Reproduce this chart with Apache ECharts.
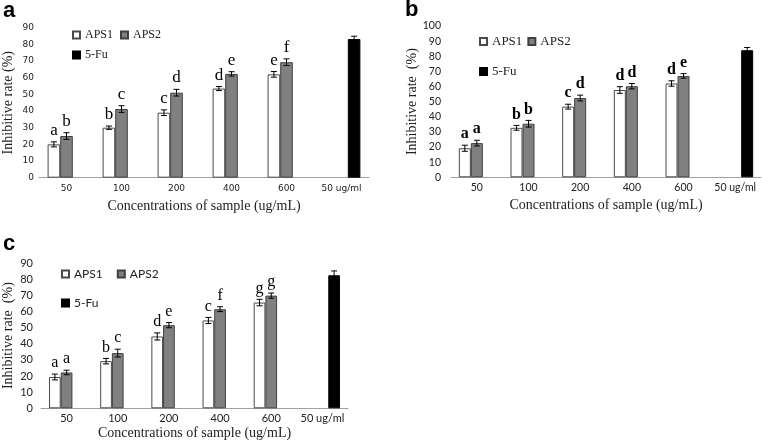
<!DOCTYPE html>
<html>
<head>
<meta charset="utf-8">
<script src="https://cdn.jsdelivr.net/npm/echarts@6/dist/echarts.min.js"></script>
<style>html,body{margin:0;padding:0;background:#fff;}#chart{width:762px;height:443px;}</style>
</head>
<body>
<div id="chart"></div>
<script>
const categories = ['50', '100', '200', '400', '600', '50 ug/ml'];
const yTicksA = { min: 0, max: 90, interval: 10 };
const yTicksB = { min: 0, max: 100, interval: 10 };
const yTicksC = { min: 0, max: 90, interval: 10 };

// Panel a
const aAPS1 = [20, 30, 39, 53.5, 62, null];
const aAPS2 = [25, 41.2, 51, 62.3, 69.3, null];
const aFU = [null, null, null, null, null, 83.2];
const aErr1 = [1.5, 1, 1.7, 1.2, 1.7, null];
const aErr2 = [2, 2, 2, 1.3, 2, null];
const aErrFU = [null, null, null, null, null, 1.7];
const aLet1 = ['a', 'b', 'c', 'd', 'e', ''];
const aLet2 = ['b', 'c', 'd', 'e', 'f', ''];

// Panel b
const bAPS1 = [19.2, 32.7, 46.7, 57.7, 62, null];
const bAPS2 = [22.6, 35.4, 52.4, 60.2, 67, null];
const bFU = [null, null, null, null, null, 84];
const bErr1 = [2, 1.6, 1.6, 2.2, 1.8, null];
const bErr2 = [1.9, 2.2, 1.9, 1.8, 1.5, null];
const bErrFU = [null, null, null, null, null, 1.8];
const bLet1 = ['a', 'b', 'c', 'd', 'd', ''];
const bLet2 = ['a', 'b', 'd', 'd', 'e', ''];

// Panel c
const cAPS1 = [19.4, 29.2, 44.5, 54.4, 65.5, null];
const cAPS2 = [22.2, 34.2, 51.5, 61.4, 69.8, null];
const cFU = [null, null, null, null, null, 82.4];
const cErr1 = [1.8, 1.7, 2.2, 1.9, 2, null];
const cErr2 = [1.4, 2.4, 1.6, 1.5, 1.6, null];
const cErrFU = [null, null, null, null, null, 2.7];
const cLet1 = ['a', 'b', 'd', 'c', 'g', ''];
const cLet2 = ['a', 'c', 'e', 'f', 'g', ''];

const SERIF = '"Liberation Serif", "Times New Roman", serif';
const SANS = '"Liberation Sans", Arial, sans-serif';

const panels = [
  { grid: { left: 39, top: 27.7, width: 330, height: 150 }, y: yTicksA, barW: 12.6,
    s1: aAPS1, s2: aAPS2, fu: aFU, e1: aErr1, e2: aErr2, efu: aErrFU, l1: aLet1, l2: aLet2,
    tickFont: { fontFamily: '"DejaVu Sans", Verdana, sans-serif', fontSize: 9 }, yLabelMargin: 5, xLabelMargin: 6,
    letterFont: 'normal 17px ' + SERIF,
    yName: 'Inhibitive rate (%)', yNameGap: 24, xNameGap: 22 },
  { grid: { left: 451, top: 26, width: 310, height: 151.3 }, y: yTicksB, barW: 12,
    s1: bAPS1, s2: bAPS2, fu: bFU, e1: bErr1, e2: bErr2, efu: bErrFU, l1: bLet1, l2: bLet2,
    tickFont: { fontFamily: 'Lato, "Open Sans", sans-serif', fontSize: 10.5 }, yLabelMargin: 10, xLabelMargin: 4.5,
    letterFont: 'bold 16px ' + SERIF,
    yName: 'Inhibitive rate  (%)', yNameGap: 31, xNameGap: 21 },
  { grid: { left: 41, top: 263, width: 307, height: 145.3 }, y: yTicksC, barW: 11.7,
    s1: cAPS1, s2: cAPS2, fu: cFU, e1: cErr1, e2: cErr2, efu: cErrFU, l1: cLet1, l2: cLet2,
    tickFont: { fontFamily: 'Lato, "Open Sans", sans-serif', fontSize: 11 }, yLabelMargin: 8, xLabelMargin: 5,
    letterFont: 'normal 16px ' + SERIF,
    yName: 'Inhibitive rate  (%)', yNameGap: 26, xNameGap: 18 }
];

const grids = [], xAxes = [], yAxes = [], series = [];

function errSeries(idx, vals, errs, letters, slot, barW, font) {
  const data = [];
  vals.forEach((v, i) => { if (v != null) data.push([i, v, errs[i]]); });
  return {
    type: 'custom', xAxisIndex: idx, yAxisIndex: idx, z: 5, silent: true,
    data: data,
    renderItem: function (params, api) {
      const i = api.value(0), v = api.value(1), e = api.value(2);
      const x = api.coord([i, v])[0] + slot * barW;
      const yt = api.coord([i, v + e])[1];
      const yb = api.coord([i, v - e])[1];
      const cap = 3;
      const st = { stroke: '#000', lineWidth: 1 };
      const children = [
        { type: 'line', shape: { x1: x, y1: yt, x2: x, y2: yb }, style: st },
        { type: 'line', shape: { x1: x - cap, y1: yt, x2: x + cap, y2: yt }, style: st },
        { type: 'line', shape: { x1: x - cap, y1: yb, x2: x + cap, y2: yb }, style: st }
      ];
      const t = letters[i];
      if (t) {
        children.push({ type: 'text', style: { text: t, x: x, y: yt - 3, align: 'center', verticalAlign: 'bottom', font: font, fill: '#000' } });
      }
      return { type: 'group', children: children };
    }
  };
}

panels.forEach((p, idx) => {
  grids.push(Object.assign({ containLabel: false }, p.grid));
  xAxes.push({
    type: 'category', gridIndex: idx, data: categories,
    axisLine: { show: true, lineStyle: { color: '#a0a0a0', width: 1 } },
    axisTick: { show: false },
    axisLabel: Object.assign({ color: '#222', margin: p.xLabelMargin, interval: 0 }, p.tickFont),
    splitLine: { show: false },
    name: 'Concentrations of sample (ug/mL)', nameLocation: 'middle', nameGap: p.xNameGap,
    nameTextStyle: { fontFamily: SERIF, fontSize: 14, color: '#222' }
  });
  yAxes.push({
    type: 'value', gridIndex: idx, min: p.y.min, max: p.y.max, interval: p.y.interval,
    axisLine: { show: false }, axisTick: { show: false }, splitLine: { show: false },
    axisLabel: Object.assign({ color: '#222', margin: p.yLabelMargin }, p.tickFont),
    name: p.yName, nameLocation: 'middle', nameGap: p.yNameGap, nameRotate: 90,
    nameTextStyle: { fontFamily: SERIF, fontSize: 14, color: '#222' }
  });
  const common = { type: 'bar', xAxisIndex: idx, yAxisIndex: idx, barWidth: p.barW, barGap: '0%' };
  series.push(Object.assign({ name: 'APS1', data: p.s1, itemStyle: { color: '#ffffff', borderColor: '#4a4a4a', borderWidth: 1 } }, common));
  series.push(Object.assign({ name: 'APS2', data: p.s2, itemStyle: { color: '#808080', borderColor: '#404040', borderWidth: 1 } }, common));
  series.push(Object.assign({ name: '5-Fu', data: p.fu, itemStyle: { color: '#000000', borderColor: '#000000', borderWidth: 1 } }, common));
  series.push(errSeries(idx, p.s1, p.e1, p.l1, -1, p.barW, p.letterFont));
  series.push(errSeries(idx, p.s2, p.e2, p.l2, 0, p.barW, p.letterFont));
  series.push(errSeries(idx, p.fu, p.efu, ['', '', '', '', '', ''], 1, p.barW, p.letterFont));
});

const legendBase = { orient: 'horizontal', padding: 0, itemWidth: 7, itemHeight: 7, icon: 'rect', selectedMode: false };
const legends = [
  Object.assign({}, legendBase, { data: ['APS1', 'APS2'], left: 72, top: 29, itemGap: 7, textStyle: { fontFamily: SERIF, fontSize: 12, color: '#222' } }),
  Object.assign({}, legendBase, { data: ['5-Fu'], left: 72, top: 49, textStyle: { fontFamily: SERIF, fontSize: 12, color: '#222' } }),
  Object.assign({}, legendBase, { data: ['APS1', 'APS2'], left: 479, top: 35, itemGap: 5, textStyle: { fontFamily: SERIF, fontSize: 13, color: '#222' } }),
  Object.assign({}, legendBase, { data: ['5-Fu'], left: 479, top: 65, textStyle: { fontFamily: SERIF, fontSize: 13, color: '#222' } }),
  Object.assign({}, legendBase, { data: ['APS1', 'APS2'], left: 61, top: 268, itemGap: 14, textStyle: { fontFamily: 'Lato, sans-serif', fontSize: 12, color: '#222' } }),
  Object.assign({}, legendBase, { data: ['5-Fu'], left: 61, top: 297, textStyle: { fontFamily: 'Lato, sans-serif', fontSize: 12, color: '#222' } })
];

const titleStyle = { fontFamily: SANS, fontSize: 22, fontWeight: 'bold', color: '#000' };
const titles = [
  { text: 'a', left: 3, top: 0, padding: 0, textStyle: titleStyle },
  { text: 'b', left: 405, top: -1, padding: 0, textStyle: titleStyle },
  { text: 'c', left: 3, top: 233, padding: 0, textStyle: titleStyle }
];

const chart = echarts.init(document.getElementById('chart'), null, { renderer: 'canvas' });
chart.setOption({
  backgroundColor: '#ffffff',
  animation: false,
  title: titles,
  legend: legends,
  grid: grids,
  xAxis: xAxes,
  yAxis: yAxes,
  series: series
});
</script>
</body>
</html>
